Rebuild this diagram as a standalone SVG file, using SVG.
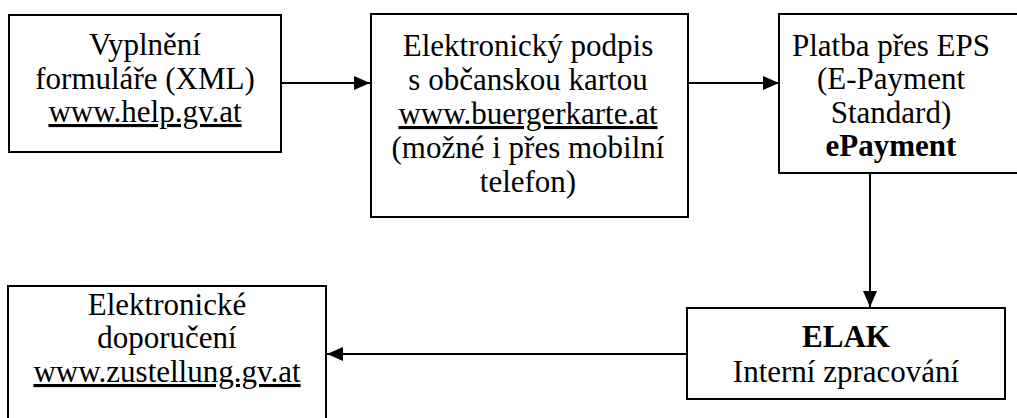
<svg xmlns="http://www.w3.org/2000/svg" width="1017" height="418" viewBox="0 0 1017 418">
<style>
.box{fill:#fff;stroke:#000;stroke-width:2}
.c{stroke:#000;stroke-width:2;fill:none}
</style>
<defs>
<marker id="ah" viewBox="0 0 16 14" refX="16" refY="7" markerWidth="16" markerHeight="14" markerUnits="userSpaceOnUse" orient="auto">
<path d="M0,0 L16,7 L0,14 Z" fill="#000"/>
</marker>
</defs>
<rect width="1017" height="418" fill="#fff"/>
<g id="connectors">
<line class="c" x1="281" y1="83" x2="370" y2="83" marker-end="url(#ah)"/>
<line class="c" x1="688" y1="83" x2="779" y2="83" marker-end="url(#ah)"/>
<line class="c" x1="870" y1="173" x2="870" y2="307" marker-end="url(#ah)"/>
<line class="c" x1="687" y1="354" x2="327" y2="354" marker-end="url(#ah)"/>
</g>
<g id="n1" font-family="Liberation Serif" font-size="31" text-anchor="middle" fill="#000">
<rect class="box" x="9" y="15" width="272" height="137"/>
<text x="145" y="55">Vyplnění</text>
<text x="145" y="89">formuláře (XML)</text>
<text x="145" y="122" text-decoration="underline">www.help.gv.at</text>
</g>
<g id="n2" font-family="Liberation Serif" font-size="31" text-anchor="middle" fill="#000">
<rect class="box" x="371" y="14" width="317" height="203"/>
<text x="528" y="56">Elektronický podpis</text>
<text x="528" y="90">s občanskou kartou</text>
<text x="528" y="124" text-decoration="underline">www.buergerkarte.at</text>
<text x="528" y="158">(možné i přes mobilní</text>
<text x="528" y="192">telefon)</text>
</g>
<g id="n3" font-family="Liberation Serif" font-size="31" text-anchor="middle" fill="#000">
<rect class="box" x="779" y="14" width="250" height="159"/>
<text x="891" y="56">Platba přes EPS</text>
<text x="891" y="89">(E-Payment</text>
<text x="891" y="123">Standard)</text>
<text x="891" y="156" font-weight="bold">ePayment</text>
</g>
<g id="n4" font-family="Liberation Serif" font-size="31" text-anchor="middle" fill="#000">
<rect class="box" x="687" y="308" width="318" height="91"/>
<text x="846" y="347" font-weight="bold">ELAK</text>
<text x="846" y="382">Interní zpracování</text>
</g>
<g id="n5" font-family="Liberation Serif" font-size="31" text-anchor="middle" fill="#000">
<rect class="box" x="8" y="286" width="318" height="150"/>
<text x="167" y="315">Elektronické</text>
<text x="167" y="348">doporučení</text>
<text x="167" y="382" text-decoration="underline">www.zustellung.gv.at</text>
</g>
</svg>
